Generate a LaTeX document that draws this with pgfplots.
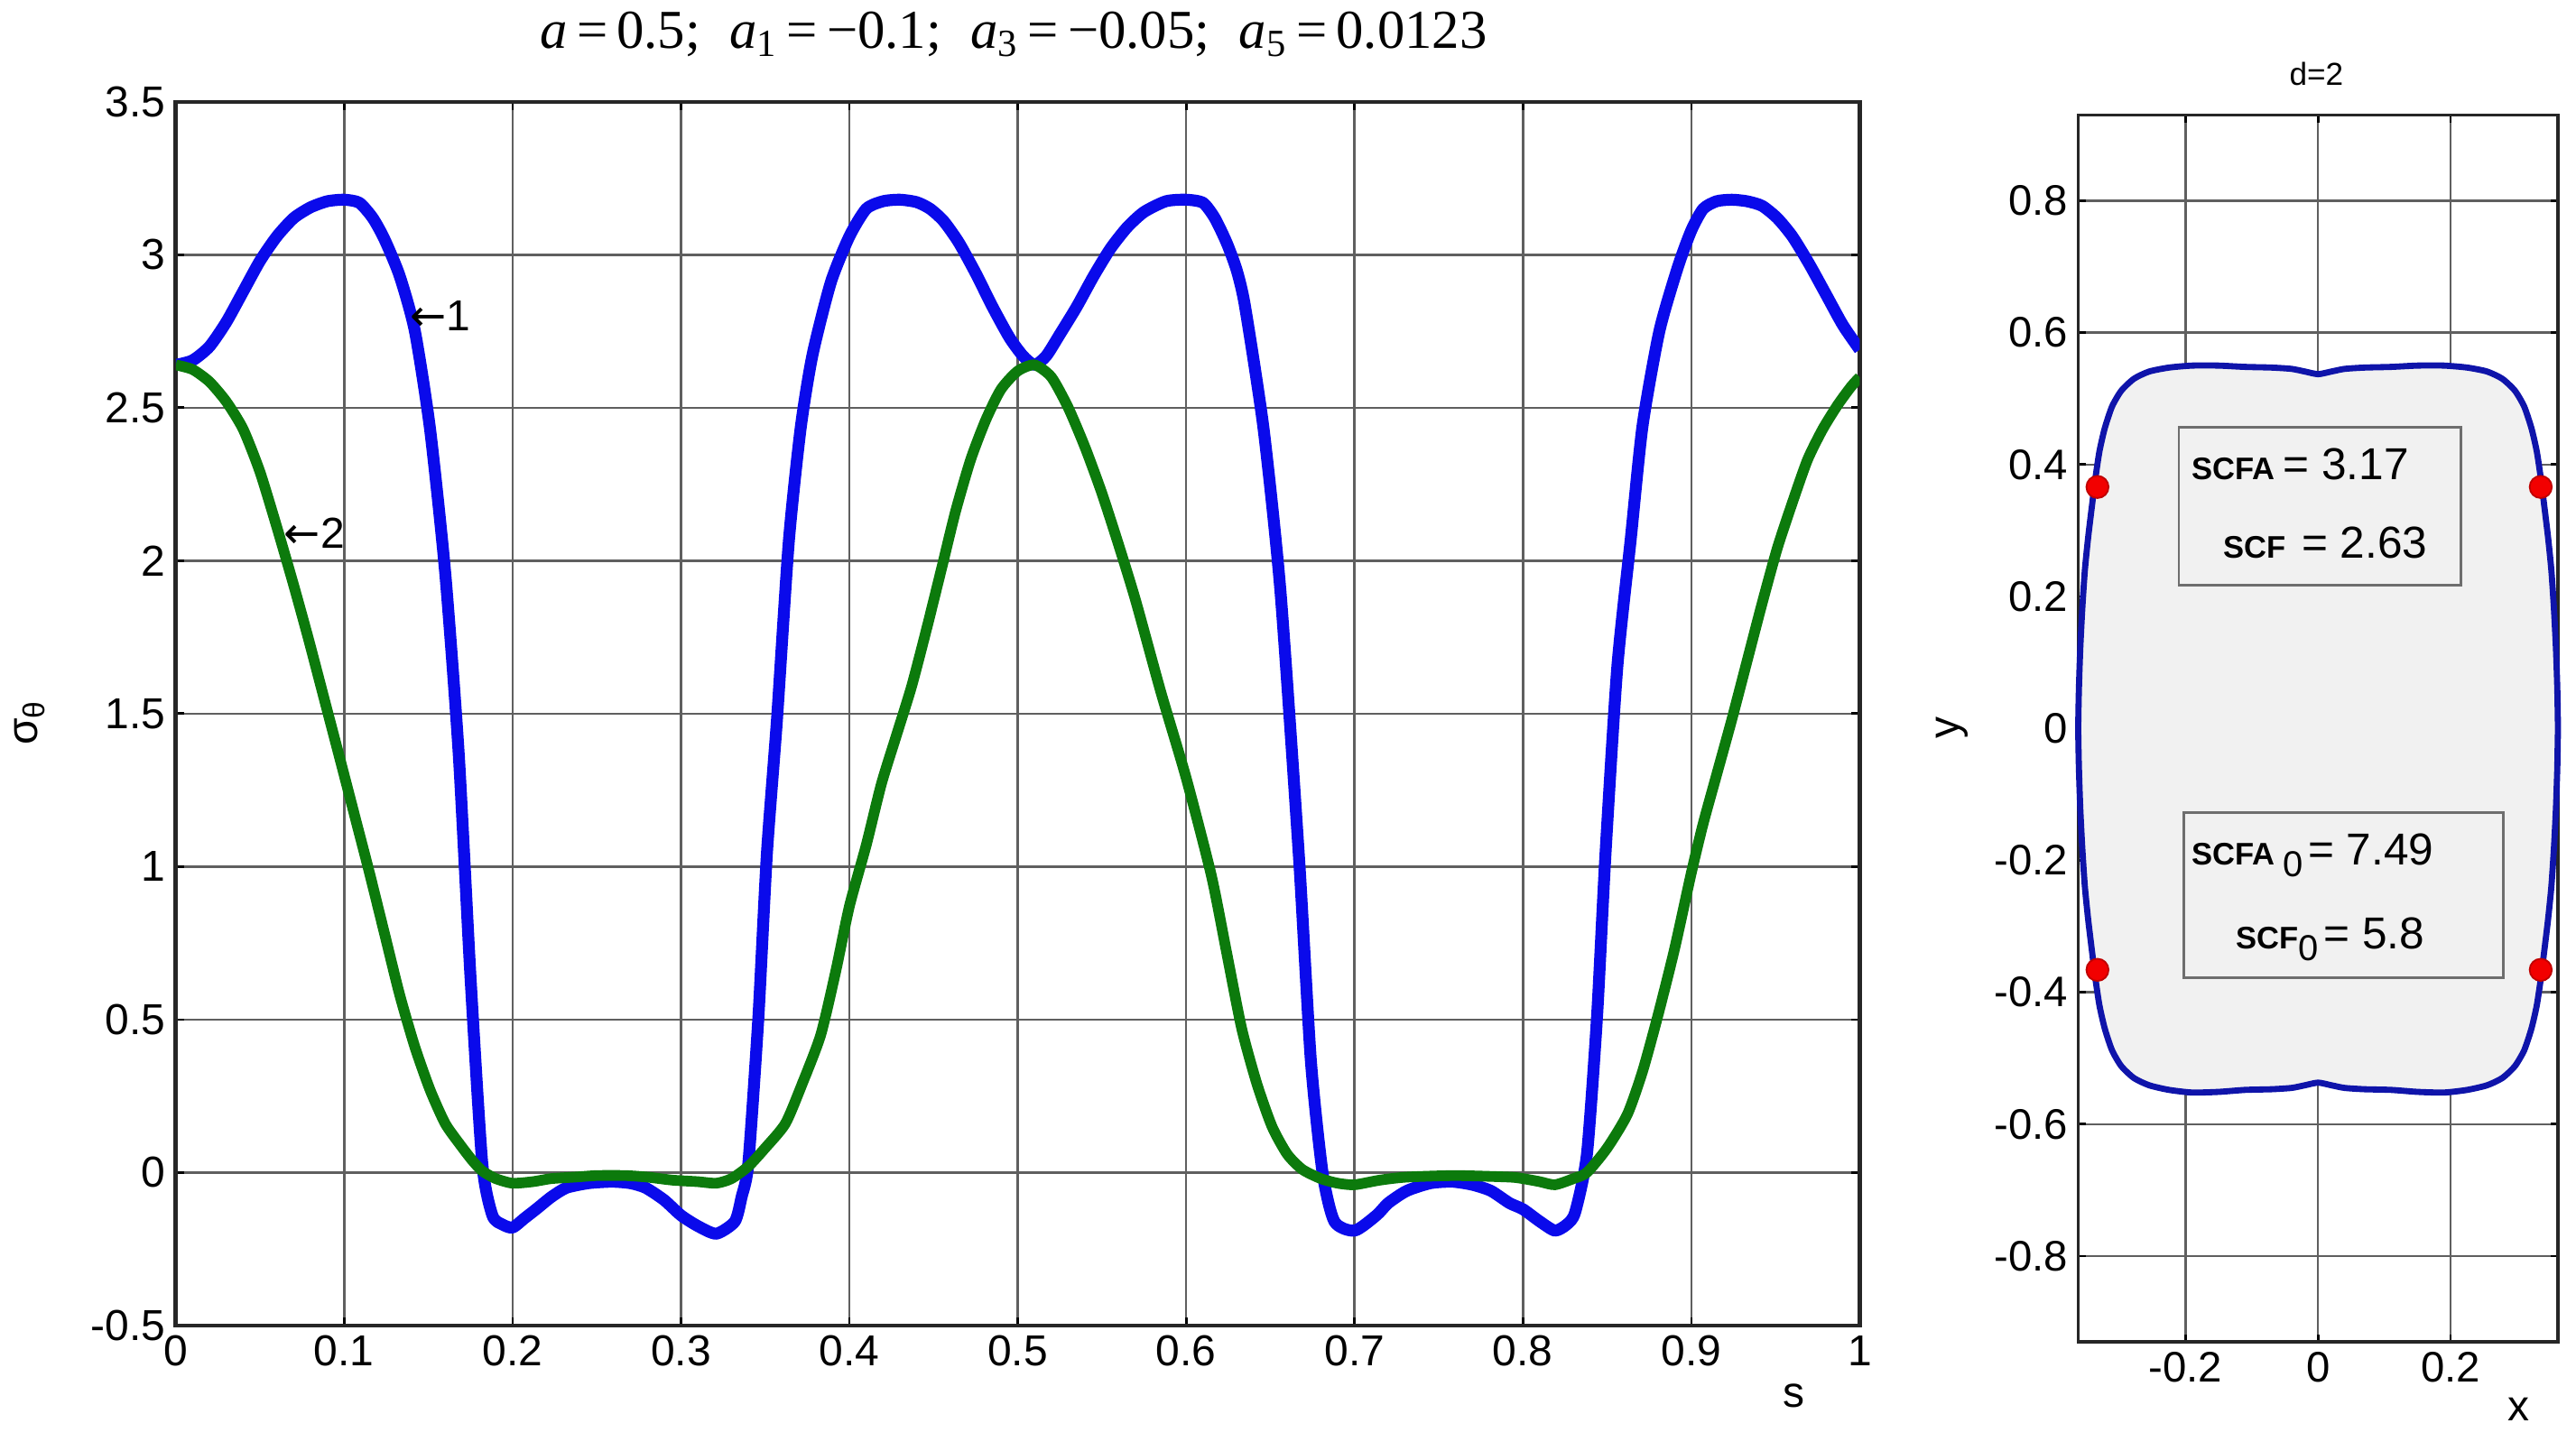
\documentclass[border=0pt]{standalone}
\usepackage{pgfplots}
\pgfplotsset{compat=1.18}
\usepackage{fontspec}
\setmainfont{Liberation Sans}
\newfontfamily\timesfont{Liberation Serif}
\newfontfamily\dejavu{DejaVu Sans}
\definecolor{myblue}{RGB}{10,10,235}
\definecolor{mygreen}{RGB}{12,122,12}
\definecolor{shapeblue}{RGB}{15,20,170}
\definecolor{shapefill}{RGB}{241,241,241}
\definecolor{gridc}{RGB}{95,95,95}
\definecolor{boxc}{RGB}{110,110,110}

\pgfplotstableread{
s sig
0 2.64
0.01 2.655
0.02 2.7
0.03 2.78
0.04 2.88
0.05 2.98
0.06 3.06
0.07 3.12
0.08 3.155
0.09 3.175
0.1 3.18
0.109 3.17
0.117 3.12
0.124 3.05
0.133 2.93
0.142 2.75
0.151 2.43
0.16 1.96
0.168 1.37
0.175 0.64
0.182 0.03
0.188 -0.14
0.194 -0.17
0.2 -0.18
0.207 -0.15
0.214 -0.12
0.223 -0.08
0.232 -0.05
0.245 -0.035
0.259 -0.03
0.27 -0.035
0.279 -0.05
0.29 -0.09
0.3 -0.14
0.31 -0.175
0.321 -0.2
0.332 -0.16
0.336 -0.08
0.340 0.03
0.346 0.51
0.351 1.04
0.357 1.48
0.364 2.06
0.371 2.43
0.378 2.67
0.389 2.91
0.4 3.06
0.41 3.15
0.42 3.175
0.43 3.18
0.44 3.172
0.448 3.15
0.456 3.11
0.465 3.04
0.475 2.94
0.485 2.83
0.495 2.73
0.503 2.67
0.51 2.64
0.517 2.67
0.525 2.74
0.535 2.83
0.545 2.93
0.555 3.02
0.565 3.09
0.575 3.14
0.588 3.175
0.6 3.18
0.61 3.17
0.617 3.12
0.624 3.04
0.63 2.95
0.635 2.83
0.646 2.43
0.656 1.9
0.667 1.03
0.674 0.37
0.681 0.0
0.688 -0.16
0.7 -0.19
0.713 -0.14
0.72 -0.1
0.731 -0.06
0.745 -0.035
0.758 -0.03
0.77 -0.04
0.781 -0.06
0.792 -0.1
0.8 -0.12
0.81 -0.16
0.819 -0.19
0.826 -0.17
0.831 -0.13
0.838 0.06
0.844 0.51
0.849 1.04
0.856 1.65
0.864 2.07
0.871 2.44
0.881 2.75
0.892 2.96
0.9 3.08
0.907 3.15
0.915 3.175
0.924 3.18
0.933 3.175
0.942 3.16
0.951 3.12
0.96 3.06
0.97 2.97
0.98 2.87
0.99 2.77
1.0 2.69
}\curveone

\pgfplotstableread{
s sig
0 2.64
0.01 2.625
0.02 2.585
0.03 2.52
0.04 2.43
0.05 2.29
0.06 2.11
0.07 1.92
0.079 1.74
0.089 1.53
0.099 1.32
0.107 1.15
0.115 0.98
0.124 0.78
0.133 0.58
0.142 0.41
0.151 0.27
0.16 0.16
0.169 0.09
0.176 0.04
0.182 0.005
0.19 -0.02
0.2 -0.035
0.212 -0.03
0.223 -0.02
0.237 -0.015
0.25 -0.01
0.267 -0.01
0.28 -0.015
0.295 -0.025
0.31 -0.03
0.321 -0.035
0.33 -0.02
0.34 0.02
0.35 0.08
0.362 0.16
0.372 0.29
0.383 0.45
0.392 0.66
0.4 0.87
0.41 1.07
0.419 1.27
0.428 1.43
0.437 1.59
0.446 1.78
0.455 1.98
0.463 2.16
0.472 2.33
0.481 2.46
0.49 2.56
0.5 2.62
0.51 2.64
0.52 2.6
0.53 2.5
0.54 2.37
0.55 2.22
0.56 2.05
0.57 1.87
0.585 1.57
0.6 1.29
0.615 0.97
0.624 0.72
0.633 0.47
0.642 0.29
0.651 0.15
0.66 0.06
0.669 0.01
0.68 -0.02
0.69 -0.035
0.7 -0.04
0.715 -0.025
0.731 -0.015
0.76 -0.01
0.792 -0.015
0.8 -0.02
0.81 -0.03
0.819 -0.04
0.83 -0.02
0.838 0.0
0.85 0.08
0.862 0.19
0.871 0.33
0.88 0.51
0.89 0.73
0.9 0.98
0.907 1.14
0.915 1.3
0.924 1.48
0.933 1.67
0.942 1.86
0.951 2.04
0.96 2.19
0.969 2.33
0.978 2.43
0.987 2.51
0.995 2.57
1.0 2.6
}\curvetwo

\pgfplotstableread{
x y
0.362 0
0.361 0.06
0.359 0.12
0.356 0.18
0.352 0.24
0.347 0.29
0.341 0.34
0.336 0.38
0.330 0.42
0.322 0.455
0.311 0.488
0.297 0.512
0.278 0.530
0.255 0.541
0.225 0.547
0.19 0.55
0.15 0.55
0.11 0.548
0.07 0.547
0.04 0.545
0.02 0.541
0 0.537
-0.02 0.541
-0.04 0.545
-0.07 0.547
-0.11 0.548
-0.15 0.55
-0.19 0.55
-0.225 0.547
-0.255 0.541
-0.278 0.530
-0.297 0.512
-0.311 0.488
-0.322 0.455
-0.330 0.42
-0.336 0.38
-0.341 0.34
-0.347 0.29
-0.352 0.24
-0.356 0.18
-0.359 0.12
-0.361 0.06
-0.362 0
-0.361 -0.06
-0.359 -0.12
-0.356 -0.18
-0.352 -0.24
-0.347 -0.29
-0.341 -0.34
-0.336 -0.38
-0.330 -0.42
-0.322 -0.455
-0.311 -0.488
-0.297 -0.512
-0.278 -0.530
-0.255 -0.541
-0.225 -0.548
-0.19 -0.552
-0.15 -0.551
-0.11 -0.548
-0.07 -0.547
-0.04 -0.545
-0.02 -0.541
0 -0.537
0.02 -0.541
0.04 -0.545
0.07 -0.547
0.11 -0.548
0.15 -0.551
0.19 -0.552
0.225 -0.548
0.255 -0.541
0.278 -0.530
0.297 -0.512
0.311 -0.488
0.322 -0.455
0.330 -0.42
0.336 -0.38
0.341 -0.34
0.347 -0.29
0.352 -0.24
0.356 -0.18
0.359 -0.12
0.361 -0.06
}\shape

\begin{document}
\begin{tikzpicture}
\path[use as bounding box] (0,0) rectangle (313.6mm,176.6mm);

\begin{axis}[
  at={(21.4mm,15.2mm)}, anchor=south west, scale only axis,
  width=205mm, height=149mm,
  xmin=0, xmax=1, ymin=-0.5, ymax=3.5,
  xtick={0,0.1,0.2,0.3,0.4,0.5,0.6,0.7,0.8,0.9,1},
  xticklabels={0,0.1,0.2,0.3,0.4,0.5,0.6,0.7,0.8,0.9,1},
  ytick={-0.5,0,0.5,1,1.5,2,2.5,3,3.5},
  yticklabels={-0.5,0,0.5,1,1.5,2,2.5,3,3.5},
  grid=major, major grid style={gridc, line width=0.28mm},
  axis line style={line width=0.5mm, black!85},
  tick align=inside, major tick length=1mm,
  tick style={black, line width=0.3mm},
  tick label style={font=\fontsize{15}{18}\selectfont},
  clip=true,
]
\addplot[myblue, line width=1.45mm, line join=round, smooth, tension=0.4] table[x=s,y=sig] {\curveone};
\addplot[mygreen, line width=1.3mm, line join=round, smooth, tension=0.4] table[x=s,y=sig] {\curvetwo};
\node[anchor=west, font=\fontsize{15}{18}\selectfont, inner sep=0pt] at (axis cs:0.139,2.80) {{\dejavu ←}1};
\node[anchor=west, font=\fontsize{15}{18}\selectfont, inner sep=0pt] at (axis cs:0.064,2.09) {{\dejavu ←}2};
\end{axis}

\begin{axis}[
  at={(253mm,13.2mm)}, anchor=south west, scale only axis,
  width=58.4mm, height=149.4mm,
  xmin=-0.362, xmax=0.362, ymin=-0.93, ymax=0.93,
  xtick={-0.2,0,0.2}, xticklabels={-0.2,0,0.2},
  ytick={-0.8,-0.6,-0.4,-0.2,0,0.2,0.4,0.6,0.8},
  yticklabels={-0.8,-0.6,-0.4,-0.2,0,0.2,0.4,0.6,0.8},
  grid=major, major grid style={gridc, line width=0.25mm},
  axis line style={line width=0.4mm, black!85},
  tick align=inside, major tick length=0.9mm,
  tick style={black, line width=0.3mm},
  tick label style={font=\fontsize{14.8}{17}\selectfont},
  clip=false,
]
\addplot[draw=shapeblue, line width=0.75mm, fill=shapefill, smooth, tension=0.4] table[x=x,y=y] {\shape} -- cycle;
\draw[boxc, line width=0.3mm, fill=shapefill] (axis cs:-0.21,0.217) rectangle (axis cs:0.216,0.457);
\draw[boxc, line width=0.3mm, fill=shapefill] (axis cs:-0.203,-0.378) rectangle (axis cs:0.28,-0.128);
\node[anchor=west, inner sep=0pt] at (axis cs:-0.191,0.40) {{\fontsize{10.8}{12}\selectfont\bfseries SCFA}\;{\fontsize{15.5}{18}\selectfont = 3.17}};
\node[anchor=west, inner sep=0pt] at (axis cs:-0.144,0.282) {{\fontsize{10.8}{12}\selectfont\bfseries SCF}\;\;{\fontsize{15.5}{18}\selectfont = 2.63}};
\node[anchor=west, inner sep=0pt] at (axis cs:-0.191,-0.192) {{\fontsize{10.8}{12}\selectfont\bfseries SCFA}\;\raisebox{-1.4mm}{\fontsize{12.5}{14}\selectfont 0}\,{\fontsize{15.5}{18}\selectfont = 7.49}};
\node[anchor=west, inner sep=0pt] at (axis cs:-0.124,-0.32) {{\fontsize{10.8}{12}\selectfont\bfseries SCF}\raisebox{-1.4mm}{\fontsize{12.5}{14}\selectfont 0}\,{\fontsize{15.5}{18}\selectfont = 5.8}};
\addplot[only marks, mark=*, mark size=1.35mm, mark options={fill=red!95!black, draw=red!75!black, line width=0.2mm}] coordinates {(-0.333,0.366) (0.336,0.366) (-0.333,-0.366) (0.336,-0.366)};
\end{axis}

% titles and axis labels
\node[font=\timesfont\fontsize{19}{22}\selectfont] at (123.4mm,172.4mm)
  {\textit{a}\,=\,0.5;\; \textit{a}\textsubscript{1}\,=\,−0.1;\; \textit{a}\textsubscript{3}\,=\,−0.05;\; \textit{a}\textsubscript{5}\,=\,0.0123};
\node[font=\fontsize{15}{18}\selectfont] at (218.4mm,6.6mm) {s};
\node[font=\fontsize{15}{18}\selectfont, rotate=90] at (3.6mm,88.6mm) {σ\textsubscript{θ}};
\node[font=\fontsize{11}{13}\selectfont] at (282mm,167.6mm) {d=2};
\node[font=\fontsize{15}{18}\selectfont] at (306.6mm,5.0mm) {x};
\node[font=\fontsize{15}{18}\selectfont, rotate=90] at (237.6mm,88.0mm) {y};
\end{tikzpicture}
\end{document}
